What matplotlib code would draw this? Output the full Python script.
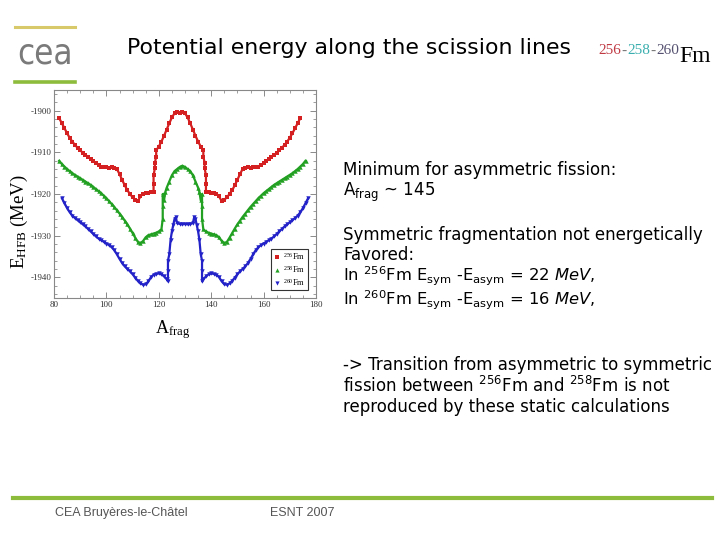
import matplotlib
matplotlib.use("Agg")
import matplotlib.pyplot as plt
from matplotlib.ticker import MultipleLocator
from matplotlib.lines import Line2D

plt.rcParams['axes.unicode_minus'] = False

# ---------------- data ----------------
a_256 = [82, 83, 84, 85, 86, 87, 88, 89, 90, 91, 92, 93, 94, 95, 96, 97, 98, 99, 100,
         101, 102, 103, 104, 105, 106, 107, 108, 109, 110, 111, 112, 113, 114, 115, 116, 117,
         118, 118, 118, 118.5, 118.5, 119, 119, 120, 121, 122, 123, 124, 125, 126, 127, 128,
         129, 130, 131, 132, 133, 134, 135, 136, 137, 137, 137.5, 137.5, 138, 138, 138,
         139, 140, 141, 142, 143, 144, 145, 146, 147, 148, 149, 150, 151, 152, 153, 154,
         155, 156, 157, 158, 159, 160, 161, 162, 163, 164, 165, 166, 167, 168, 169, 170,
         171, 172, 173, 174]
e_256 = [-1901.8, -1903.0, -1904.2, -1905.4, -1906.5, -1907.4, -1908.2, -1908.9, -1909.5,
         -1910.1, -1910.6, -1911.1, -1911.6, -1912.1, -1912.6, -1913.0, -1913.4, -1913.6,
         -1913.6, -1913.7, -1913.6, -1913.8, -1914.0, -1915.2, -1916.6, -1917.9, -1919.1,
         -1920.0, -1920.8, -1921.4, -1921.7, -1920.6, -1919.9, -1919.8, -1919.7, -1919.6,
         -1919.5, -1917.5, -1915.5, -1913.8, -1912.5, -1911.0, -1909.5, -1908.6, -1907.4,
         -1906.0, -1904.5, -1903.0, -1901.6, -1900.6, -1900.3, -1900.5, -1900.3, -1900.6,
         -1901.6, -1903.0, -1904.5, -1906.0, -1907.4, -1908.6, -1909.5, -1911.0, -1912.5,
         -1913.8, -1915.5, -1917.5, -1919.5, -1919.6, -1919.7, -1919.8, -1919.9, -1920.6,
         -1921.7, -1921.4, -1920.8, -1920.0, -1919.1, -1917.9, -1916.6, -1915.2, -1914.0,
         -1913.8, -1913.6, -1913.7, -1913.6, -1913.6, -1913.4, -1913.0, -1912.6, -1912.1,
         -1911.6, -1911.1, -1910.6, -1910.1, -1909.5, -1908.9, -1908.2, -1907.4, -1906.5,
         -1905.4, -1904.2, -1903.0, -1901.8]

a_258 = [82, 83, 84, 85, 86, 87, 88, 89, 90, 91, 92, 93, 94, 95, 96, 97, 98, 99, 100,
         101, 102, 103, 104, 105, 106, 107, 108, 109, 110, 111, 112, 113, 114, 115, 116,
         117, 118, 119, 120, 121, 121.5, 121.5, 121.5, 122, 122.5, 123, 124, 125, 126, 127,
         128, 129, 130, 131, 132, 133, 134, 135, 135.5, 136, 136.5, 136.5, 136.5, 137, 138,
         139, 140, 141, 142, 143, 144, 145, 146, 147, 148, 149, 150, 151, 152, 153, 154,
         155, 156, 157, 158, 159, 160, 161, 162, 163, 164, 165, 166, 167, 168, 169, 170,
         171, 172, 173, 174, 175, 176]
e_258 = [-1912.0, -1912.8, -1913.4, -1914.0, -1914.5, -1915.0, -1915.4, -1915.8, -1916.2,
         -1916.6, -1917.0, -1917.4, -1917.8, -1918.3, -1918.8, -1919.3, -1919.8, -1920.4,
         -1921.0, -1921.7, -1922.4, -1923.1, -1923.9, -1924.7, -1925.5, -1926.4, -1927.3,
         -1928.3, -1929.4, -1930.5, -1931.5, -1931.8, -1931.3, -1930.4, -1929.9, -1929.7,
         -1929.5, -1929.3, -1929.0, -1928.5, -1926.0, -1923.0, -1920.0, -1921.5, -1919.5,
         -1918.5, -1917.0, -1915.5, -1914.5, -1914.0, -1913.5, -1913.2, -1913.5, -1914.0,
         -1914.5, -1915.5, -1917.0, -1918.5, -1919.5, -1921.5, -1920.0, -1923.0, -1926.0,
         -1928.5, -1929.0, -1929.3, -1929.5, -1929.7, -1929.9, -1930.4, -1931.3, -1931.8,
         -1931.5, -1930.5, -1929.4, -1928.3, -1927.3, -1926.4, -1925.5, -1924.7, -1923.9,
         -1923.1, -1922.4, -1921.7, -1921.0, -1920.4, -1919.8, -1919.3, -1918.8, -1918.3,
         -1917.8, -1917.4, -1917.0, -1916.6, -1916.2, -1915.8, -1915.4, -1915.0, -1914.5,
         -1914.0, -1913.4, -1912.8, -1912.0]

a_260 = [83, 84, 85, 86, 87, 88, 89, 90, 91, 92, 93, 94, 95, 96, 97, 98, 99, 100, 101,
         102, 103, 104, 105, 106, 107, 108, 109, 110, 111, 112, 113, 114, 115, 116, 117, 118,
         119, 120, 121, 122, 123, 123.5, 123.5, 123.5, 124, 124.5, 125, 125.5, 126, 126.5,
         127, 128, 129, 130, 131, 132, 133, 133.5, 134, 134.5, 135, 135.5, 136, 136.5, 136.5,
         136.5, 137, 138, 139, 140, 141, 142, 143, 144, 145, 146, 147, 148, 149, 150, 151,
         152, 153, 154, 155, 156, 157, 158, 159, 160, 161, 162, 163, 164, 165, 166, 167, 168,
         169, 170, 171, 172, 173, 174, 175, 176, 177]
e_260 = [-1921.0, -1922.2, -1923.4, -1924.4, -1925.2, -1925.8, -1926.3, -1926.8, -1927.3,
         -1927.8, -1928.4, -1929.0, -1929.6, -1930.2, -1930.7, -1931.1, -1931.5, -1931.9,
         -1932.3, -1932.8, -1933.5, -1934.5, -1935.6, -1936.6, -1937.4, -1938.0, -1938.6,
         -1939.3, -1940.1, -1940.9, -1941.5, -1941.8, -1941.7, -1941.0, -1940.0, -1939.4,
         -1939.2, -1939.1, -1939.3, -1939.8, -1940.5, -1941.0, -1938.5, -1936.0, -1934.5,
         -1931.0, -1929.0, -1927.5, -1926.0, -1925.6, -1927.0, -1927.2, -1927.3, -1927.2,
         -1927.3, -1927.2, -1927.0, -1925.6, -1926.0, -1927.5, -1929.0, -1931.0, -1934.5,
         -1936.0, -1938.5, -1941.0, -1940.5, -1939.8, -1939.3, -1939.1, -1939.2, -1939.4,
         -1940.0, -1941.0, -1941.7, -1941.8, -1941.5, -1940.9, -1940.1, -1939.3, -1938.6,
         -1938.0, -1937.4, -1936.6, -1935.6, -1934.5, -1933.5, -1932.8, -1932.3, -1931.9,
         -1931.5, -1931.1, -1930.7, -1930.2, -1929.6, -1929.0, -1928.4, -1927.8, -1927.3,
         -1926.8, -1926.3, -1925.8, -1925.2, -1924.4, -1923.4, -1922.2, -1921.0]

series_labels = ["256", "258", "260"]
series_colors = ["#d42020", "#22a022", "#2222c8"]
series_markers = ["s", "^", "v"]

# ---------------- figure ----------------
W, H = 720, 540
fig = plt.figure(figsize=(7.2, 5.4), dpi=100)
fig.patch.set_facecolor("white")

def fx(x):
    return x / W

def fy(y):
    return 1 - y / H

ax = fig.add_axes([fx(54), fy(298), fx(316) - fx(54), fy(90) - fy(298)])
datasets = [(a_256, e_256), (a_258, e_258), (a_260, e_260)]
for (xs, ys), lab, col, mk in zip(datasets, series_labels, series_colors, series_markers):
    ax.plot(xs, ys, color=col, lw=1.6, marker=mk, ms=3.2, mew=0, ls='-',
            label=r"$\mathregular{^{%s}}$Fm" % lab)

ax.set_xlim(80, 180)
ax.set_ylim(-1945, -1895)
ax.xaxis.set_major_locator(MultipleLocator(20))
ax.xaxis.set_minor_locator(MultipleLocator(5))
ax.yaxis.set_major_locator(MultipleLocator(10))
ax.yaxis.set_minor_locator(MultipleLocator(2))
ax.tick_params(which='both', direction='in', top=True, right=True, color='#777777',
               labelsize=6.5, pad=2)
ax.tick_params(which='major', length=4, width=0.6)
ax.tick_params(which='minor', length=2, width=0.5)
for lab in ax.get_xticklabels() + ax.get_yticklabels():
    lab.set_fontfamily("Liberation Serif")
    lab.set_color("#333333")
for sp in ax.spines.values():
    sp.set_color("#888888")
    sp.set_linewidth(0.8)

handles = [Line2D([], [], color=c, marker=m, ls='none', ms=3, mew=0)
           for c, m in zip(series_colors, series_markers)]
leg = ax.legend(handles, [r"$\mathregular{^{%s}}$Fm" % s for s in series_labels],
                loc='lower right', prop={'family': 'Liberation Serif', 'size': 6},
                frameon=True, fancybox=False, edgecolor='black', handlelength=0.8,
                handletextpad=0.4, borderpad=0.3, labelspacing=0.2, borderaxespad=0,
                bbox_to_anchor=(0.969, 0.038))
leg.get_frame().set_linewidth(0.8)

# axis labels (slide text)
fig.text(fx(19), fy(222), r"E$\mathregular{_{HFB}}$ (MeV)", rotation=90,
         family="Liberation Serif", fontsize=13.5, ha='center', va='center')
fig.text(fx(155), fy(330), r"A$\mathregular{_{frag}}$", family="Liberation Serif",
         fontsize=13, ha='left', va='center')

# ---------------- slide decorations ----------------
fig.add_artist(Line2D([fx(15), fx(75)], [fy(27), fy(27)], color="#d8c96a", lw=2.2))
fig.add_artist(Line2D([fx(15), fx(75)], [fy(82), fy(82)], color="#8dbb3c", lw=2.6))
fig.text(fx(45), fy(53), "cea", fontsize=25, color="#7a7a7a", ha='center', va='center',
         family="DejaVu Sans", fontweight='light', fontstretch='condensed')
fig.add_artist(Line2D([fx(13), fx(712)], [fy(498), fy(498)], color="#8dbb3c", lw=3))

fig.text(fx(127), fy(48), "Potential energy along the scission lines", fontsize=15.8,
         ha='left', va='center', family="DejaVu Sans")

# 256-258-260Fm, laid out one piece after the other
parts = [("256", "#c03a44", 11, 51), ("-", "#777777", 11, 51), ("258", "#3aaeae", 11, 51),
         ("-", "#777777", 11, 51), ("260", "#545070", 11, 51), ("Fm", "black", 17, 56)]
renderer = fig.canvas.get_renderer()
xpos = 598
for txt, col, size, y in parts:
    t = fig.text(fx(xpos), fy(y), txt, color=col, fontsize=size, family="Liberation Serif",
                 ha='left', va='center')
    bb = t.get_window_extent(renderer=renderer)
    xpos += bb.width + 0.5

# right-hand text block
fs = 12
lines = [
    (170, "Minimum for asymmetric fission:", fs),
    (192, r"A$\mathregular{_{frag}}$ ~ 145", fs),
    (235, "Symmetric fragmentation not energetically", fs),
    (255, "Favored:", fs),
    (276.5, r"In $\mathregular{^{256}}$Fm E$\mathregular{_{sym}}$ -E$\mathregular{_{asym}}$ = 22 $\mathit{MeV}$,", 11.8),
    (300.5, r"In $\mathregular{^{260}}$Fm E$\mathregular{_{sym}}$ -E$\mathregular{_{asym}}$ = 16 $\mathit{MeV}$,", 11.8),
    (365, "-> Transition from asymmetric to symmetric", fs),
    (386, r"fission between $\mathregular{^{256}}$Fm and $\mathregular{^{258}}$Fm is not", fs),
    (407, "reproduced by these static calculations", fs),
]
for y, t, s in lines:
    fig.text(fx(343), fy(y), t, fontsize=s, ha='left', va='center', family="DejaVu Sans")

fig.text(fx(55), fy(513), "CEA Bruyères-le-Châtel", fontsize=9, color="#555555",
         ha='left', va='center', family="Liberation Sans")
fig.text(fx(270), fy(513), "ESNT 2007", fontsize=9, color="#555555",
         ha='left', va='center', family="Liberation Sans")

fig.savefig("out.png", dpi=100)
